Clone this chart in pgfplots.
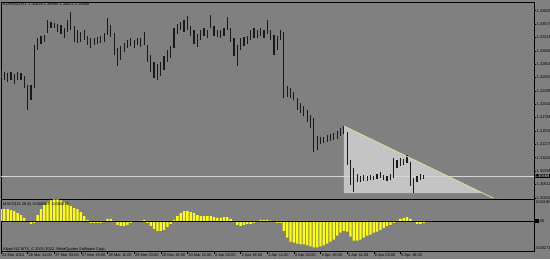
\documentclass[border=0pt]{standalone}
\usepackage{pgfplots}
\pgfplotsset{compat=1.18}
\usepackage{pgfplotstable}
\usepackage{fontspec}
\setmainfont{Liberation Sans}
\definecolor{bg}{HTML}{808080}
\definecolor{tri}{HTML}{C4C4C4}
\definecolor{trend}{HTML}{E2DC96}
\definecolor{macd}{HTML}{FFFF00}
\definecolor{pline}{HTML}{D6D6D6}
\newcommand\mtf{\fontsize{4}{4.6}\selectfont}

\pgfplotstableread{
x h l
0 1.32692 1.32540
2 1.32654 1.32502
4 1.32635 1.32463
6 1.32654 1.32502
8 1.32616 1.32425
10 1.32654 1.32502
12 1.32635 1.32502
14 1.32578 1.32349
16 1.32406 1.31929
18 1.32406 1.32120
20 1.33170 1.32349
22 1.33303 1.33074
24 1.33341 1.33189
26 1.33361 1.33227
28 1.33647 1.33399
30 1.33609 1.33494
32 1.33590 1.33494
34 1.33570 1.33418
36 1.33551 1.33380
38 1.33494 1.33303
40 1.33647 1.33418
42 1.33800 1.33456
44 1.33532 1.33227
46 1.33456 1.33208
48 1.33418 1.33227
50 1.33456 1.33265
52 1.33341 1.33170
54 1.33303 1.33112
56 1.33303 1.33170
58 1.33322 1.33189
60 1.33341 1.33208
62 1.33399 1.33227
64 1.33685 1.33361
66 1.33551 1.33322
68 1.33399 1.32979
70 1.33112 1.32769
72 1.33151 1.32883
74 1.33208 1.33036
76 1.33265 1.33112
78 1.33303 1.33151
80 1.33265 1.33112
82 1.33303 1.33170
84 1.33303 1.33131
86 1.33418 1.33170
88 1.33170 1.32845
90 1.32979 1.32654
92 1.32845 1.32540
94 1.32807 1.32502
96 1.32845 1.32578
98 1.32960 1.32692
100 1.33074 1.32845
102 1.33151 1.32921
104 1.33494 1.33112
106 1.33570 1.33380
108 1.33609 1.33456
110 1.33647 1.33418
112 1.33723 1.33456
114 1.33532 1.33341
116 1.33456 1.33189
118 1.33380 1.33131
120 1.33456 1.33265
122 1.33494 1.33341
124 1.33456 1.33303
126 1.33742 1.33494
128 1.33532 1.33341
130 1.33456 1.33322
132 1.33456 1.33303
134 1.33494 1.33341
136 1.33704 1.33456
138 1.33494 1.33227
140 1.33303 1.32960
142 1.33170 1.32769
144 1.33303 1.33074
146 1.33322 1.33151
148 1.33341 1.33189
150 1.33456 1.33265
152 1.33494 1.33303
154 1.33456 1.33303
156 1.33494 1.33341
158 1.33456 1.33303
160 1.33647 1.33380
162 1.33456 1.33265
164 1.33361 1.32979
166 1.33341 1.33074
168 1.33456 1.33265
170 1.33418 1.32158
172 1.32387 1.32177
174 1.32349 1.32158
176 1.32273 1.32120
178 1.32158 1.31929
180 1.32063 1.31872
182 1.32005 1.31815
184 1.31929 1.31700
186 1.31834 1.31586
188 1.31777 1.31128
190 1.31433 1.31166
192 1.31414 1.31280
194 1.31414 1.31299
196 1.31452 1.31318
198 1.31471 1.31338
200 1.31490 1.31357
202 1.31528 1.31376
204 1.31586 1.31433
206 1.31624 1.31471
208 1.31509 1.30880
210 1.30975 1.30498
212 1.30822 1.30364
214 1.30708 1.30555
216 1.30670 1.30555
218 1.30689 1.30574
220 1.30670 1.30574
222 1.30689 1.30593
224 1.30670 1.30593
226 1.30708 1.30612
228 1.30746 1.30632
230 1.30689 1.30593
232 1.30670 1.30574
234 1.30708 1.30593
236 1.31013 1.30632
238 1.30975 1.30822
240 1.31013 1.30861
242 1.30994 1.30880
244 1.31070 1.30918
246 1.30937 1.30479
248 1.30632 1.30345
250 1.30670 1.30555
252 1.30708 1.30593
254 1.30699 1.30612
}\pricetab

\pgfplotstableread{
x v
0 0.00106
2 0.00106
4 0.00106
6 0.00097
8 0.00089
10 0.00071
12 0.00053
14 0.00027
16 -0.00009
18 -0.00027
20 -0.00018
22 0.00053
24 0.00106
26 0.00142
28 0.00168
30 0.00186
32 0.00195
34 0.00195
36 0.00186
38 0.00168
40 0.00150
42 0.00133
44 0.00115
46 0.00106
48 0.00080
50 0.00044
52 0.00009
54 -0.00018
56 -0.00018
58 -0.00018
60 -0.00018
62 -0.00009
64 0.00018
66 0.00018
68 -0.00009
70 -0.00035
72 -0.00044
74 -0.00044
76 -0.00035
78 -0.00018
80 -0.00009
82 -0.00009
84 0.00004
86 0.00009
88 -0.00018
90 -0.00044
92 -0.00071
94 -0.00089
96 -0.00089
98 -0.00080
100 -0.00053
102 -0.00027
104 0.00009
106 0.00044
108 0.00071
110 0.00089
112 0.00089
114 0.00080
116 0.00071
118 0.00053
120 0.00044
122 0.00044
124 0.00044
126 0.00044
128 0.00035
130 0.00027
132 0.00027
134 0.00035
136 0.00035
138 0.00018
140 -0.00009
142 -0.00035
144 -0.00044
146 -0.00035
148 -0.00027
150 -0.00027
152 -0.00018
154 -0.00009
156 0.00009
158 0.00009
160 0.00009
162 0.00004
164 -0.00009
166 -0.00018
168 -0.00018
170 -0.00089
172 -0.00150
174 -0.00186
176 -0.00195
178 -0.00204
180 -0.00212
182 -0.00212
184 -0.00221
186 -0.00230
188 -0.00239
190 -0.00239
192 -0.00230
194 -0.00221
196 -0.00204
198 -0.00186
200 -0.00168
202 -0.00133
204 -0.00106
206 -0.00089
208 -0.00097
210 -0.00142
212 -0.00177
214 -0.00177
216 -0.00168
218 -0.00150
220 -0.00133
222 -0.00124
224 -0.00106
226 -0.00097
228 -0.00080
230 -0.00062
232 -0.00044
234 -0.00035
236 -0.00018
238 0.00004
240 0.00018
242 0.00027
244 0.00035
246 0.00018
248 -0.00009
250 -0.00027
252 -0.00027
254 -0.00018
}\macdtab

\begin{document}
\begin{tikzpicture}[x=1bp,y=1bp]
\useasboundingbox (0,0) rectangle (550,259);
\clip (0,0) rectangle (550,259);
\fill[bg] (0,0) rectangle (550,259);

% ---------- price window ----------
\begin{axis}[
  at={(1bp,257bp)}, anchor=north west,
  scale only axis, width=533bp, height=197bp,
  xmin=0, xmax=320.3, ymin=1.30231, ymax=1.33991,
  axis line style={black, line width=0.5bp},
  xtick=\empty,
  ytick={1.30255,1.30510,1.30765,1.31020,1.31275,1.31530,1.31785,1.32040,1.32295,1.32550,1.32805,1.33060,1.33315,1.33570,1.33825},
  yticklabels={1.30255,1.30510,1.30765,1.31020,1.31275,1.31530,1.31785,1.32040,1.32295,1.32550,1.32805,1.33060,1.33315,1.33570,1.33825},
  ytick pos=right, yticklabel pos=right,
  tick align=outside, major tick length=2bp,
  tick style={black, line width=0.4bp},
  yticklabel style={font=\mtf, text=black, inner sep=0.4bp, xshift=0.1bp},
]
\addplot[fill=tri, draw=none, forget plot] coordinates {(206.1,1.31624) (206.1,1.30345) (289.5,1.30345)} -- cycle;
\addplot[pline, line width=0.5bp, forget plot] coordinates {(0,1.30668) (320.3,1.30668)};
\addplot[draw=none, mark=none, forget plot,
  error bars/.cd, y dir=both, y explicit, error mark=none,
  error bar style={draw=black!90, solid, line width=1.2bp}]
  table[x=x, y expr={(\thisrow{h}+\thisrow{l})/2}, y error expr={(\thisrow{h}-\thisrow{l})/2}] {\pricetab};
\addplot[trend, line width=0.8bp, forget plot] coordinates {(206.1,1.31624) (295.7,1.30250)};
\coordinate (pl) at (axis cs:320.3,1.30668);
\end{axis}
\node[fill=black, text=white, font=\mtf, inner sep=0.6bp, anchor=west] at (pl) {1.30668};

% ---------- MACD window ----------
\begin{axis}[
  at={(1bp,60bp)}, anchor=north west,
  scale only axis, width=533bp, height=52bp,
  xmin=0, xmax=320.3, ymin=-0.00271, ymax=0.00198,
  axis line style={black, line width=0.5bp},
  ytick=\empty,
  xtick={0,16,32,48,64,80,96,112,128,144,160,176,192,208,224,240},
  xticklabels={23 Mar 2012,26 Mar 11:00,27 Mar 03:00,27 Mar 19:00,28 Mar 11:00,29 Mar 03:00,29 Mar 19:00,30 Mar 11:00,2 Apr 03:00,2 Apr 19:00,3 Apr 11:00,4 Apr 03:00,4 Apr 19:00,5 Apr 11:00,6 Apr 03:00,6 Apr 19:00},
  xtick pos=left,
  tick align=outside, major tick length=2.5bp,
  tick style={black, line width=0.4bp},
  xticklabel style={font=\mtf, text=black, anchor=north west, inner sep=0.4bp, xshift=0.4bp, yshift=0.6bp},
]
\addplot[ybar, bar width=2.3bp, fill=macd, draw=none, forget plot] table[x=x, y=v] {\macdtab};
\addplot[black, line width=0.5bp, forget plot] coordinates {(0,0) (320.3,0)};
\coordinate (mz) at (axis cs:320.3,0);
\coordinate (mt) at (rel axis cs:1,1);
\coordinate (mb) at (rel axis cs:1,0);
\end{axis}
\node[font=\mtf, text=black, anchor=north west, inner sep=0.4bp] at ([xshift=1.5bp,yshift=-1.5bp]mt) {0.00198};
\node[font=\mtf, text=black, anchor=west, inner sep=0.4bp] at ([xshift=2bp]mz) {0.00};
\node[fill=black, inner sep=0pt, minimum width=3.4bp, minimum height=4bp, anchor=west] at ([xshift=1.2bp]mz) {};
\node[font=\mtf, text=black, anchor=south west, inner sep=0.2bp] at ([xshift=0.6bp,yshift=1bp]mb) {-0.00271};

% ---------- window texts ----------
\node[font=\mtf, text=black, anchor=west, inner sep=0pt] at (3,254.3) {EURUSD,H1\ \ 1.30639 1.30699 1.30612 1.30668};
\node[font=\mtf, text=black, anchor=west, inner sep=0pt] at (3,54.8) {MACD(12,26,9) -0.000587 -0.000672};
\node[font=\mtf, text=black, anchor=west, inner sep=0pt] at (3,10) {Alpari NZ MT4, \textcopyright\ 2001-2012, MetaQuotes Software Corp.};
\end{tikzpicture}
\end{document}
